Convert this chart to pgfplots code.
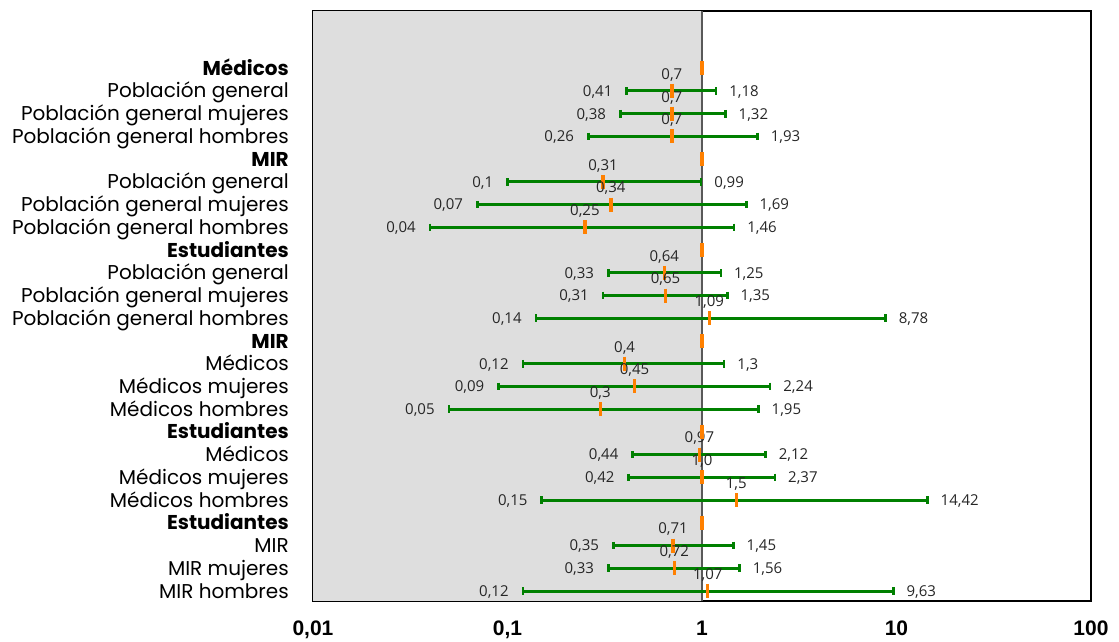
\documentclass[border=0pt]{standalone}
\usepackage{pgfplots}
\pgfplotsset{compat=1.18}
\usepackage{pgfplotstable}
\usepackage{fontspec}
\setmainfont{Poppins}
\newfontfamily\dlab{Open Sans}
\newfontfamily\tickfont{Liberation Sans}
\definecolor{ciGreen}{RGB}{0,128,0}
\definecolor{estOrange}{RGB}{255,128,0}
\definecolor{shade}{RGB}{222,222,222}

\pgfplotstableread{
y est lo hi estl lol hil
23 0.7 0.41 1.18 0,7 0,41 1,18
22 0.7 0.38 1.32 0,7 0,38 1,32
21 0.7 0.26 1.93 0,7 0,26 1,93
19 0.31 0.1 0.99 0,31 0,1 0,99
18 0.34 0.07 1.69 0,34 0,07 1,69
17 0.25 0.04 1.46 0,25 0,04 1,46
15 0.64 0.33 1.25 0,64 0,33 1,25
14 0.65 0.31 1.35 0,65 0,31 1,35
13 1.09 0.14 8.78 1,09 0,14 8,78
11 0.4 0.12 1.3 0,4 0,12 1,3
10 0.45 0.09 2.24 0,45 0,09 2,24
9 0.3 0.05 1.95 0,3 0,05 1,95
7 0.97 0.44 2.12 0,97 0,44 2,12
6 1.0 0.42 2.37 1,0 0,42 2,37
5 1.5 0.15 14.42 1,5 0,15 14,42
3 0.71 0.35 1.45 0,71 0,35 1,45
2 0.72 0.33 1.56 0,72 0,33 1,56
1 1.07 0.12 9.63 1,07 0,12 9,63
}\data

\pgfplotstableread{
y est
24 1
20 1
16 1
12 1
8 1
4 1
}\headers

\begin{document}
\begin{tikzpicture}
\useasboundingbox (-313pt,-40pt) rectangle (806pt,601pt);
\begin{axis}[
  at={(0pt,0pt)}, anchor=south west,
  scale only axis, width=778pt, height=590pt,
  xmode=log, xmin=0.01, xmax=100, ymin=0.56, ymax=26.52,
  clip=false,
  axis line style={line width=2pt, black},
  xtick={0.01,0.1,1,10,100},
  xticklabels={{0,01},{0,1},{1},{10},{100}},
  minor xtick={}, xminorticks=false,
  ytick={1,...,24},
  yticklabels={MIR hombres, MIR mujeres, MIR, \textbf{Estudiantes},
    Médicos hombres, Médicos mujeres, Médicos, \textbf{Estudiantes},
    Médicos hombres, Médicos mujeres, Médicos, \textbf{MIR},
    Población general hombres, Población general mujeres, Población general, \textbf{Estudiantes},
    Población general hombres, Población general mujeres, Población general, \textbf{MIR},
    Población general hombres, Población general mujeres, Población general, \textbf{Médicos}},
  major tick length=0pt,
  tick style={draw=none},
  xticklabel style={font=\tickfont\bfseries\fontsize{21}{21}\selectfont, anchor=base, yshift=-34.5pt, inner sep=0pt},
  yticklabel style={font=\fontsize{20}{22}\selectfont, anchor=base east, inner sep=0pt, xshift=-24pt, yshift=-7pt},
]
\addplot[fill=shade, draw=none] coordinates {(0.01,0.56) (1,0.56) (1,26.52) (0.01,26.52)} -- cycle;
\addplot[line width=1.3pt, black!65] coordinates {(1,0.56) (1,26.52)};
\addplot[ciGreen, line width=3pt, unbounded coords=jump] coordinates {
(0.41,23)(1.18,23)(nan,23)
(0.38,22)(1.32,22)(nan,22)
(0.26,21)(1.93,21)(nan,21)
(0.1,19)(0.99,19)(nan,19)
(0.07,18)(1.69,18)(nan,18)
(0.04,17)(1.46,17)(nan,17)
(0.33,15)(1.25,15)(nan,15)
(0.31,14)(1.35,14)(nan,14)
(0.14,13)(8.78,13)(nan,13)
(0.12,11)(1.3,11)(nan,11)
(0.09,10)(2.24,10)(nan,10)
(0.05,9)(1.95,9)(nan,9)
(0.44,7)(2.12,7)(nan,7)
(0.42,6)(2.37,6)(nan,6)
(0.15,5)(14.42,5)(nan,5)
(0.35,3)(1.45,3)(nan,3)
(0.33,2)(1.56,2)(nan,2)
(0.12,1)(9.63,1)
};
\addplot[only marks, mark=|, mark size=3.8pt, mark options={ciGreen, line width=2.6pt},
  nodes near coords, point meta=explicit symbolic,
  nodes near coords style={anchor=base east, inner sep=0pt, xshift=-13pt, yshift=-5.3pt, font=\dlab\fontsize{15}{15}\selectfont, text=black!85}]
  table[x=lo, y=y, meta=lol] {\data};
\addplot[only marks, mark=|, mark size=3.8pt, mark options={ciGreen, line width=2.6pt},
  nodes near coords, point meta=explicit symbolic,
  nodes near coords style={anchor=base west, inner sep=0pt, xshift=12pt, yshift=-5.3pt, font=\dlab\fontsize{15}{15}\selectfont, text=black!85}]
  table[x=hi, y=y, meta=hil] {\data};
\addplot[only marks, mark=|, mark size=7pt, mark options={estOrange, line width=3.3pt},
  nodes near coords, point meta=explicit symbolic,
  nodes near coords style={anchor=base, inner sep=0pt, yshift=11.7pt, font=\dlab\fontsize{15}{15}\selectfont, text=black!85}]
  table[x=est, y=y, meta=estl] {\data};
\addplot[only marks, mark=|, mark size=7pt, mark options={estOrange, line width=3.3pt}]
  table[x=est, y=y] {\headers};
\end{axis}
\end{tikzpicture}
\end{document}
